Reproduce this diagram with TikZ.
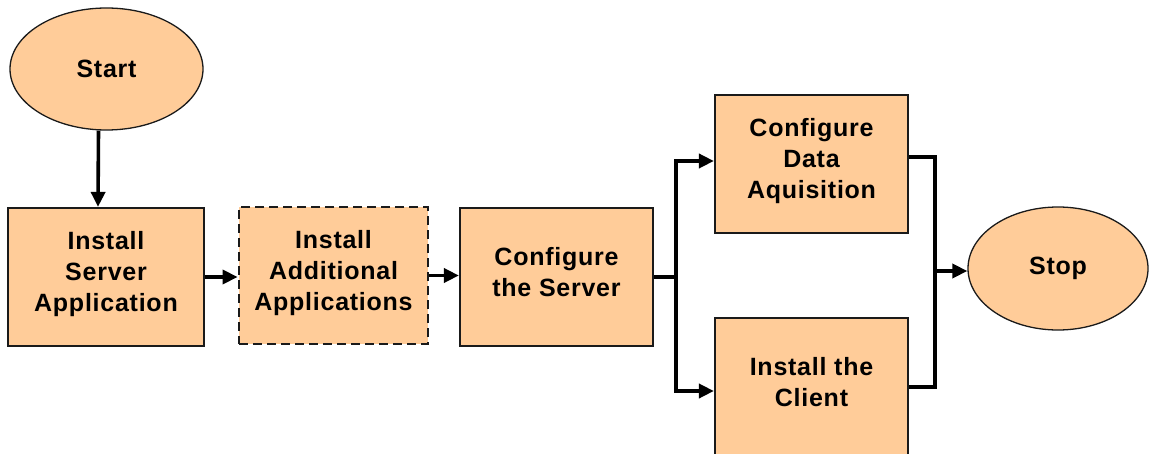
\documentclass[tikz,border=0pt]{standalone}
\usepackage{fontspec}
\setmainfont{Liberation Sans}[LetterSpace=3]
\usetikzlibrary{shapes.geometric,arrows.meta}
\definecolor{peach}{HTML}{FFCC99}
\definecolor{edge}{HTML}{1A1A1A}
\begin{document}
\begin{tikzpicture}[x=1pt,y=-1pt,
  txt/.style={font=\fontsize{25}{31}\selectfont\bfseries, align=center},
  box/.style={txt, text depth=11pt, draw=edge, line width=2.2pt, fill=peach, minimum width=193pt, minimum height=138pt, inner sep=0pt},
  oval/.style={txt, ellipse, draw=edge, line width=1.3pt, fill=peach, inner sep=0pt},
  link/.style={line width=3.6pt, draw=black},
  arr/.style={link, -{Triangle[length=15pt,width=14pt]}}]
\useasboundingbox (0,0) rectangle (1150,454);
\begin{scope}
\clip (0,0) rectangle (1150,454);
\node[oval, minimum width=193pt, minimum height=122pt] (start) at (106.5,69) {Start};
\node[box, minimum width=196pt] (b1) at (106,277) {Install\\Server\\Application};
\node[box, line width=2.8pt, dash pattern=on 9pt off 5pt, minimum width=189pt, minimum height=137pt] (b2) at (333.5,275.5) {Install\\Additional\\Applications};
\node[box] (b3) at (556.5,277) {Configure\\the Server};
\node[box] (b4) at (811.5,164) {Configure\\Data\\Aquisition};
\node[box] (b5) at (811.5,387) {Install the\\Client};
\node[oval, minimum width=180pt, minimum height=123pt] (stop) at (1058,268.5) {Stop};
\coordinate (split) at (676,277);
\coordinate (join) at (935,271);
\draw[arr] ([xshift=-8pt]start.south) -- ([xshift=-8pt]b1.north);
\draw[arr] (b1.east) -- (b1.east -| b2.west);
\draw[arr] (b2.east) -- (b2.east -| b3.west);
\draw[link] (b3.east) -- (split);
\draw[arr] (split) |- ([yshift=3pt]b4.west);
\draw[arr] (split) |- ([yshift=-4pt]b5.west);
\draw[link] ([yshift=7pt]b4.east) -| (join);
\draw[link] (b5.east) -| (join);
\draw[arr] (join) -- (join -| stop.west);
\end{scope}
\end{tikzpicture}
\end{document}
